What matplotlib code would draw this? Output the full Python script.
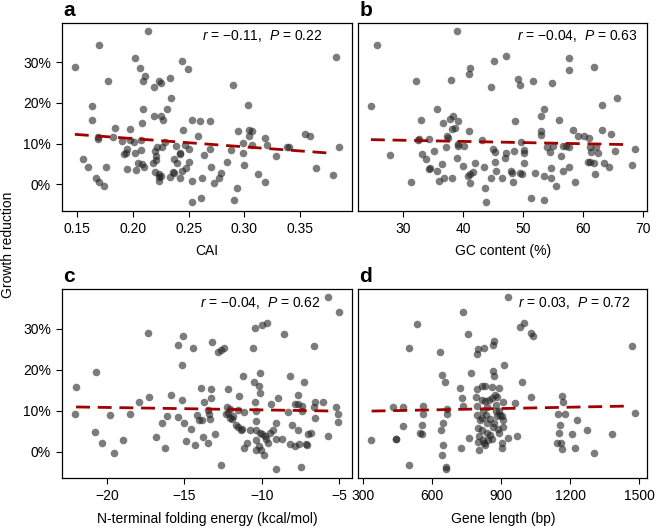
import matplotlib
matplotlib.use("Agg")
import matplotlib.pyplot as plt
from matplotlib.ticker import FixedLocator

plt.rcParams['font.family'] = ['Liberation Sans', 'DejaVu Sans']
plt.rcParams['mathtext.fontset'] = 'custom'
plt.rcParams['mathtext.it'] = 'Liberation Sans:italic'
plt.rcParams['mathtext.rm'] = 'Liberation Sans'

# ---------------- data ----------------
# Panel a: CAI vs growth reduction (%)
a_x = [0.148,0.170,0.2135,0.202,0.206,0.211,0.209,0.178,0.2186,0.223,0.225,0.233,0.244,0.249,0.290,0.382,
       0.163,0.234,0.209,0.219,0.225,0.227,0.231,0.303,0.163,0.208,0.253,0.260,0.269,
       0.184,0.197,0.245,0.258,0.294,0.304,0.307,0.304,0.318,0.354,0.359,
       0.169,0.182,0.190,0.197,0.201,0.207,0.229,0.239,0.247,0.299,0.320,0.338,0.340,0.385,
       0.195,0.207,0.220,0.222,0.226,0.250,0.269,0.288,0.299,0.307,
       0.192,0.194,0.202,0.221,0.237,0.242,0.264,0.328,
       0.155,0.205,0.208,0.218,0.221,0.240,0.242,0.250,0.284,
       0.160,0.176,0.195,0.203,0.210,0.270,0.300,0.364,
       0.220,0.236,0.237,0.244,0.248,0.279,0.312,0.379,
       0.167,0.170,0.174,0.223,0.233,0.242,0.262,0.277,0.223,0.253,0.273,0.318,0.293,0.253,0.261,0.291,0.223,0.225,
       0.169]
a_y = [28.9,34.2,37.6,31.0,28.6,26.7,25.5,25.3,24.0,25.3,25.0,26.0,30.3,28.2,24.4,31.3,
       19.3,21.1,18.5,16.8,16.8,15.9,18.4,19.5,15.7,15.2,15.8,15.5,15.6,
       13.8,13.6,13.3,12.0,13.1,13.3,13.2,11.8,11.4,12.5,12.0,
       11.1,11.6,10.6,10.8,10.5,10.8,10.4,9.5,9.8,10.2,9.7,9.2,9.2,9.2,
       8.6,8.5,8.1,9.1,9.3,8.7,8.7,8.5,7.8,9.7,
       7.4,7.7,7.8,7.0,6.3,7.8,7.3,6.9,
       6.2,5.3,5.1,5.2,6.1,5.3,7.5,5.6,5.6,
       4.2,4.2,3.9,3.5,4.3,4.2,4.7,4.0,
       3.1,3.1,2.9,3.4,4.0,2.8,2.5,2.3,
       1.6,0.7,-0.3,1.8,1.8,1.6,1.6,1.6,0.8,0.9,0.4,0.5,-0.9,-4.3,-3.4,-3.8,2.6,2.2,
       11.7]

# Panel b: GC content (%) vs growth reduction (%)
b_x = [25.7,24.7,38.9,32.2,37.9,40.9,41.1,45.2,44.7,47.2,49.2,49.5,51.6,54.8,57.7,57.7,61.8,65.6,63.1,
       35.6,32.9,36.7,37.8,38.3,39.1,38.6,38.1,40.9,48.7,53.5,52.9,55.9,52.9,53.0,58.3,59.2,60.1,61.0,63.1,64.7,
       32.6,34.3,37.3,37.5,32.5,35.1,37.1,39.1,39.2,40.1,43.2,45.0,45.3,47.2,46.9,48.4,49.6,50.1,50.1,54.0,
       54.5,55.0,56.3,56.7,57.2,57.7,61.1,61.3,62.2,62.4,65.3,68.6,
       27.8,33.1,33.8,34.3,34.4,36.4,35.7,38.9,39.9,41.9,40.8,41.2,41.2,41.6,43.4,45.5,45.3,46.5,44.7,48.0,
       48.2,48.3,50.2,49.5,49.8,51.9,53.5,54.7,54.7,55.5,57.7,56.7,58.6,60.8,61.1,61.8,62.0,63.5,64.3,68.2,
       31.3,43.6,43.8,51.3,53.4,38.2,36.8,36.0]
b_y = [34.1,19.3,37.6,25.3,25.7,27.1,28.6,30.3,24.0,31.4,25.9,24.4,25.3,25.0,31.1,28.1,28.9,21.2,19.5,
       18.6,15.7,15.2,16.1,16.8,15.6,13.8,13.7,13.1,15.5,18.4,16.9,15.9,13.2,12.1,13.3,11.9,11.9,11.4,13.3,12.4,
       11.1,11.1,11.9,11.5,10.8,8.3,9.2,10.0,9.4,9.4,10.8,8.8,7.9,7.6,6.4,8.2,10.5,8.4,7.7,9.2,
       7.9,9.4,7.0,9.4,9.4,9.2,9.2,7.9,9.2,7.8,8.3,8.8,
       7.2,7.4,6.2,3.9,4.0,5.1,3.4,6.4,4.6,5.2,2.1,2.5,0.4,3.1,4.2,3.3,5.6,1.5,1.6,3.4,
       2.9,0.5,5.2,2.9,2.5,2.7,2.2,4.0,1.6,-0.4,4.3,3.3,0.7,5.6,5.6,5.3,2.5,5.2,4.2,4.7,
       0.7,-0.9,-4.4,-3.4,-3.8,1.6,1.6,0.8]

# Panel c: N-terminal folding energy (kcal/mol) vs growth reduction (%)
c_x = [-21.98,-22.09,-20.69,-20.80,-20.30,-19.83,-19.55,-18.96,-18.53,-17.95,-17.35,-17.28,-16.87,-16.46,-16.27,
       -16.16,-15.88,-15.41,-15.11,-15.19,-15.19,-15.41,-15.02,-14.89,-14.61,-14.42,-14.31,-14.22,-14.09,-13.92,
       -13.73,-13.85,-13.81,-13.51,-13.40,
       -5.71,-5.04,-10.45,-10.0,-9.68,-8.58,-13.21,-10.56,-6.62,-12.82,-12.61,-12.44,-11.25,-10.09,-8.17,
       -10.5,-10.17,-7.31,-13.30,-12.22,-13.30,-11.47,-10.13,-8.99,-7.69,
       -10.45,-6.57,-6.04,-5.24,-7.69,-9.38,-13.47,-12.28,-12.07,-11.53,-11.14,-10.39,-8.30,-7.87,-7.44,
       -7.44,-6.66,-6.57,-5.07,-5.07,
       -13.36,-12.07,-11.96,-11.85,-12.35,-12.18,-10.35,-9.09,-8.04,-7.69,-7.01,-6.83,-5.76,
       -11.70,-11.53,-11.38,-11.31,-10.78,-10.35,-10.13,-9.98,-9.81,-9.48,-9.27,-9.12,-8.73,-8.19,-7.87,
       -7.59,-7.16,
       -13.04,-10.93,-11.14,-10.35,-10.17,-10.35,-10.07,-9.85,-9.74,-9.59,-12.65,-9.09,-7.50,-7.10]
c_y = [15.8,9.1,19.5,4.8,2.2,8.9,-0.3,2.9,9.1,12.0,28.9,13.4,3.5,7.0,0.8,
       8.7,13.9,26.0,28.2,21.2,12.5,8.5,7.1,2.7,5.5,25.3,1.6,8.9,7.7,15.6,
       12.1,7.6,3.5,2.2,9.1,
       37.7,34.1,30.2,30.9,31.3,28.7,26.7,25.2,25.7,24.2,24.9,25.3,18.5,19.3,18.5,
       16.9,16.0,16.9,15.4,15.2,13.2,13.6,14.3,13.2,13.8,
       12.0,12.0,12.0,10.8,11.6,11.6,10.2,10.8,10.4,10.2,9.7,9.9,9.7,11.6,11.2,
       10.0,10.8,8.3,9.1,7.3,
       7.9,8.3,7.9,8.6,9.1,9.5,7.5,7.1,6.4,5.3,4.2,4.6,3.7,
       6.4,5.9,5.3,5.6,5.4,5.3,4.6,4.2,3.8,4.6,5.3,3.2,3.0,1.8,1.5,
       1.8,1.8,
       4.2,2.0,0.8,2.9,1.5,0.4,0.4,-0.9,3.0,2.2,-3.3,-4.3,-3.7,1.6]

# Panel d: gene length (bp) vs growth reduction (%)
d_x = [930,735,535,997,981,1028,1036,754,500,1470,633,800,825,796,864,868,767,643,657,864,868,910,990,719,796,
       817,830,861,890,1031,730,
       790,817,874,880,909,961,1164,1169,430,474,559,662,735,796,836,
       793,797,804,803,825,827,832,836,839,843,865,877,880,891,901,909,901,904,909,930,967,800,807,814,822,
       1146,1155,1151,1142,1161,1164,1178,1209,1219,1230,1274,1304,1380,1481,
       333,441,474,546,556,639,646,645,643,659,658,500,558,662,723,758,554,
       860,850,870,890,845,820,885,860,875,830,895,815,850,441]
d_y = [37.7,34.1,31.1,31.5,30.3,28.9,28.2,28.7,25.3,25.7,24.4,25.0,25.3,23.9,26.0,26.9,19.3,18.6,16.9,19.6,18.5,
       21.2,16.9,15.6,15.3,15.9,15.9,15.7,15.6,13.4,13.2,
       13.4,12.6,13.9,13.4,12.2,11.8,13.5,12.0,10.8,10.8,11.2,10.4,11.2,11.2,11.0,
       9.0,5.7,3.7,0.4,2.0,1.7,9.0,6.9,4.5,2.9,6.1,9.8,8.6,4.5,8.6,7.7,2.0,0.8,6.1,3.3,3.7,2.4,7.7,5.3,2.9,
       9.2,6.5,4.5,2.2,2.0,0.6,9.1,4.2,0.8,7.8,5.3,-0.3,4.2,9.4,
       2.9,3.0,6.3,4.6,6.4,5.4,7.0,1.6,-0.8,-3.7,-4.2,-3.3,9.2,9.2,1.0,3.4,4.3,
       13.0,8.0,7.0,10.0,12.5,9.8,5.5,3.0,11.5,12.3,9.0,8.3,4.0,3.2]

# regression lines (x range, fitted y at ends)
fit_a_x, fit_a_y = [0.148, 0.376], [12.3, 7.7]
fit_b_x, fit_b_y = [24.6, 66.8], [11.0, 9.8]
fit_c_x, fit_c_y = [-22.0, -5.2], [10.9, 9.9]
fit_d_x, fit_d_y = [336, 1434], [9.9, 11.1]

# text
panel_letters = ['a', 'b', 'c', 'd']
x_labels = ['CAI', 'GC content (%)', 'N-terminal folding energy (kcal/mol)', 'Gene length (bp)']
stats_text = [r'$r$ = −0.11,  $P$ = 0.22', r'$r$ = −0.04,  $P$ = 0.63',
              r'$r$ = −0.04,  $P$ = 0.62', r'$r$ = 0.03,  $P$ = 0.72']
x_ticks = [[0.15, 0.20, 0.25, 0.30, 0.35], [30, 40, 50, 60, 70], [-20, -15, -10, -5], [300, 600, 900, 1200, 1500]]
x_tick_labels = [['0.15', '0.20', '0.25', '0.30', '0.35'], ['30', '40', '50', '60', '70'],
                 ['−20', '−15', '−10', '−5'], ['300', '600', '900', '1200', '1500']]
y_ticks = [0, 10, 20, 30]
y_tick_labels = ['0%', '10%', '20%', '30%']
y_label = 'Growth reduction'

# ---------------- layout ----------------
W, H = 656, 528
fig = plt.figure(figsize=(W / 100, H / 100), dpi=100)

def rect(l, t, r, b):
    return [l / W, 1 - b / H, (r - l) / W, (b - t) / H]

rects = [rect(62, 23, 352, 211), rect(358.3, 23, 647.3, 211),
         rect(62, 289.3, 352, 478.3), rect(358.3, 289.3, 647.3, 478.3)]
xlims = [(0.1365, 0.3964), (22.5, 70.67), (-22.91, -4.18), (278, 1535)]
ylim = (-6.5, 39.6)
stat_pos = [(0.897, 0.93), (0.968, 0.93), (0.892, 0.926), (0.94, 0.926)]

xs = [a_x, b_x, c_x, d_x]
ys = [a_y, b_y, c_y, d_y]
fits = [(fit_a_x, fit_a_y), (fit_b_x, fit_b_y), (fit_c_x, fit_c_y), (fit_d_x, fit_d_y)]

for i in range(4):
    ax = fig.add_axes(rects[i])
    ax.scatter(xs[i], ys[i], s=30, color='#1e1e1e', alpha=0.58, linewidths=0, zorder=2)
    ax.plot(fits[i][0], fits[i][1], color='#a00000', lw=2.0, linestyle=(0, (5, 2.8)), zorder=3)
    ax.set_xlim(*xlims[i])
    ax.set_ylim(*ylim)
    ax.xaxis.set_major_locator(FixedLocator(x_ticks[i]))
    ax.set_xticklabels(x_tick_labels[i])
    ax.set_xlabel(x_labels[i], fontsize=10, labelpad=6)
    if i % 2 == 0:
        ax.set_yticks(y_ticks)
        ax.set_yticklabels(y_tick_labels)
    else:
        ax.set_yticks([])
    ax.tick_params(direction='out', length=4, width=0.8, labelsize=10, pad=4)
    for sp in ax.spines.values():
        sp.set_linewidth(0.9)
    ax.text(stat_pos[i][0], stat_pos[i][1], stats_text[i], transform=ax.transAxes,
            ha='right', va='center', fontsize=10)
    fig.text(rects[i][0] + 1 / W, rects[i][1] + rects[i][3] + 3 / H, panel_letters[i],
             fontsize=15, fontweight='bold', ha='left', va='bottom')

fig.text(8 / W, 1 - 245 / H, y_label, rotation=90, ha='center', va='center', fontsize=10)

fig.savefig('out.png', dpi=100)
